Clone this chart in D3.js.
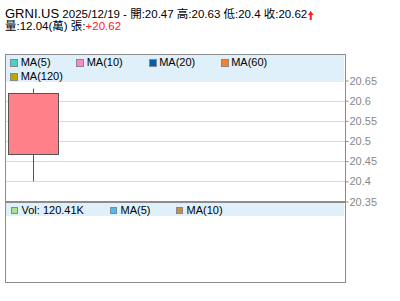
<!DOCTYPE html>
<html><head><meta charset="utf-8">
<script src="https://cdn.jsdelivr.net/npm/d3@7"></script>
<style>html,body{margin:0;padding:0;background:#fff;}svg{display:block;}</style>
</head><body>
<script>
const symbol = "GRNI.US";
const dates = ["2025/12/19"];
const opens = [20.47];
const highs = [20.63];
const lows = [20.4];
const closes = [20.62];
const volumes = [120.41];   // K
const volWan = "12.04";
const change = "+20.62";
const priceTicks = [20.35, 20.4, 20.45, 20.5, 20.55, 20.6, 20.65];
const maLegend = ["MA(5)", "MA(10)", "MA(20)", "MA(60)", "MA(120)"];
const maColors = ["#44d4cc", "#ff88c4", "#0060b0", "#ff8020", "#b8a800"];
const volLegend = ["Vol: 120.41K", "MA(5)", "MA(10)"];
const volColors = ["#a8e090", "#50b8ec", "#c89040"];

const W = 400, H = 301;
const font = "'Liberation Sans', Arial, 'Noto Sans CJK TC', sans-serif";
const svg = d3.select("body").append("svg").attr("width", W).attr("height", H)
  .style("font-family", font);

const L = 5, R = 345, topY = 54, mainBottom = 202, volBottom = 282;

// Title
const t1 = svg.append("text").attr("x", 5).attr("y", 17.5).attr("fill", "#000");
t1.append("tspan").attr("font-size", 13).text(symbol);
const t1b = t1.append("tspan").attr("font-size", 11.5)
  .text(` ${dates[0]} - 開:${opens[0]} 高:${highs[0]} 低:${lows[0]} 收:${closes[0]}`);
const tEnd = t1.node().getComputedTextLength() + 5;
// up arrow
const ax = tEnd + 3.5;
svg.append("path")
  .attr("d", `M${ax - 3},15 L${ax},11 L${ax + 3},15 Z M${ax - 1},14 H${ax + 1} V20 H${ax - 1} Z`)
  .attr("fill", "#ff2020");
const t2 = svg.append("text").attr("x", 5).attr("y", 29.5).attr("font-size", 11.5).attr("fill", "#000");
t2.append("tspan").text(`量:${volWan}(萬) 張:`);
t2.append("tspan").attr("fill", "#ff2020").text(change);

// scales
const y = d3.scaleLinear().domain([20.35, 20.65]).range([201.5, 80.5]);
const x = d3.scaleLinear().domain([0, 6]).range([L, R]);

// gridlines
svg.append("g").selectAll("line").data(priceTicks.filter(v => v > 20.36 && v < 20.64)).join("line")
  .attr("x1", L).attr("x2", R).attr("y1", d => Math.round(y(d)) + 0.5).attr("y2", d => Math.round(y(d)) + 0.5)
  .attr("stroke", "#d9d9d9").attr("stroke-width", 1);

// candle
const cg = svg.append("g");
dates.forEach((d, i) => {
  const cx = Math.round(x(i + 0.5)) + 0.5;
  const bw = (x(1) - x(0)) * 0.89;
  cg.append("line").attr("x1", cx).attr("x2", cx).attr("y1", y(highs[i])).attr("y2", y(lows[i]))
    .attr("stroke", "#555").attr("stroke-width", 1);
  const yTop = y(Math.max(opens[i], closes[i])), yBot = y(Math.min(opens[i], closes[i]));
  cg.append("rect").attr("x", Math.round(cx - bw / 2) + 0.5).attr("y", Math.round(yTop) + 0.5)
    .attr("width", Math.round(bw)).attr("height", Math.round(yBot - yTop))
    .attr("fill", closes[i] >= opens[i] ? "#ff8088" : "#40b040").attr("stroke", "#555");
});

// main legend band
svg.append("rect").attr("x", L).attr("y", topY + 1).attr("width", R - L - 1).attr("height", 27).attr("fill", "#dff0fa");
const maPos = [[10, 59], [76, 59], [148.5, 59], [220.5, 59], [10, 72.5]];
maLegend.forEach((m, i) => {
  const [sx, sy] = maPos[i];
  svg.append("rect").attr("x", Math.round(sx) + 0.5).attr("y", Math.round(sy) + 0.5).attr("width", 7).attr("height", 7)
    .attr("fill", maColors[i]).attr("stroke", "#888");
  svg.append("text").attr("x", sx + 10.7).attr("y", sy + 7).attr("font-size", 11).attr("fill", "#000").text(m);
});

// volume legend band
svg.append("rect").attr("x", L).attr("y", 203).attr("width", R - L - 1).attr("height", 13).attr("fill", "#dff0fa");
const volPos = [11, 110, 176];
volLegend.forEach((m, i) => {
  const sx = volPos[i];
  svg.append("rect").attr("x", sx + 0.5).attr("y", 207.5).attr("width", 6).attr("height", 6)
    .attr("fill", volColors[i]).attr("stroke", "#888");
  svg.append("text").attr("x", sx + 10.5).attr("y", 214).attr("font-size", 11).attr("fill", "#000").text(m);
});

// frames
svg.append("rect").attr("x", L + 0.5).attr("y", topY + 0.5).attr("width", R - L).attr("height", mainBottom - topY - 1)
  .attr("fill", "none").attr("stroke", "#8c8c8c");
svg.append("rect").attr("x", L + 0.5).attr("y", mainBottom + 0.5).attr("width", R - L).attr("height", volBottom - mainBottom)
  .attr("fill", "none").attr("stroke", "#8c8c8c");

// right axis
const axis = d3.axisRight(y).tickValues(priceTicks).tickSize(3).tickPadding(1).tickFormat(d => String(+d.toFixed(2)));
const ag = svg.append("g").attr("transform", `translate(${R + 0.5},0)`).call(axis);
ag.select(".domain").remove();
ag.selectAll(".tick line").attr("stroke", "#8c8c8c");
ag.selectAll(".tick text").attr("fill", "#888").attr("font-size", 11).attr("font-family", font);
</script>
</body></html>
